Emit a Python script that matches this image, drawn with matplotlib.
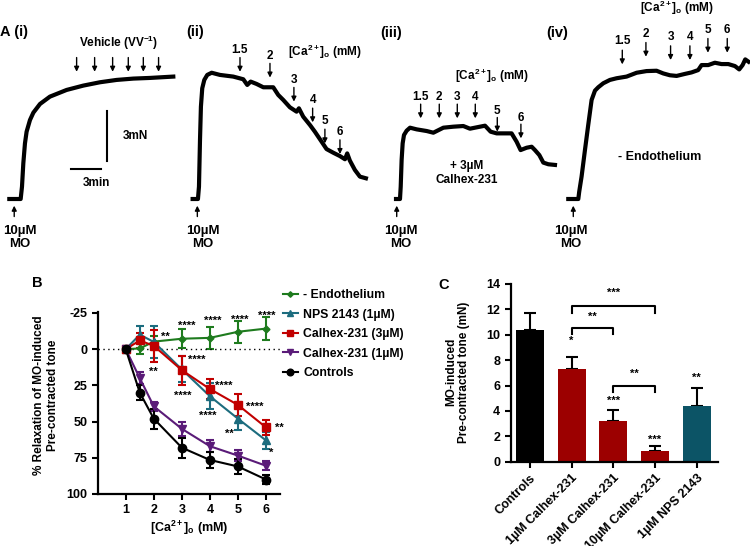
import matplotlib.pyplot as plt
from matplotlib.lines import Line2D
import numpy as np

plt.rcParams['font.family'] = ['Liberation Sans', 'DejaVu Sans']
plt.rcParams['font.weight'] = 'bold'
plt.rcParams['axes.labelweight'] = 'bold'
plt.rcParams['axes.unicode_minus'] = False
plt.rcParams['mathtext.fontset'] = 'custom'
plt.rcParams['mathtext.rm'] = 'Liberation Sans:bold'
plt.rcParams['mathtext.it'] = 'Liberation Sans:bold'
plt.rcParams['mathtext.bf'] = 'Liberation Sans:bold'
plt.rcParams['mathtext.default'] = 'regular'

# ---- Panel A: myograph traces (time in min after MO, tension in mN above baseline)
tr1_t = [0, 1.11, 1.24, 1.37, 1.53, 1.69, 2.02, 2.35, 3.0, 3.97, 5.6, 7.23, 8.86,
         10.49, 12.12, 13.75, 16.03]
tr1_f = [0, 0, 0.74, 2.14, 3.33, 4.03, 4.73, 5.17, 5.69, 6.13, 6.53, 6.79, 6.99,
         7.13, 7.21, 7.25, 7.33]
tr2_t = [0, 0.52, 0.62, 0.72, 0.81, 0.94, 1.14, 1.43, 1.86, 2.67, 3.97, 4.95, 5.34,
         5.67, 6.25, 6.91, 7.88, 8.37, 8.86, 9.51, 10.16, 10.39, 10.81, 11.47, 11.95,
         12.28, 12.61, 13.09, 13.75, 14.4, 14.89, 15.11, 15.37, 15.86, 16.35, 16.94]
tr2_f = [0, 0, 0.74, 3.53, 5.53, 6.63, 7.13, 7.43, 7.56, 7.43, 7.33, 7.17, 6.83,
         7.03, 6.89, 6.69, 6.69, 6.23, 5.93, 5.49, 5.23, 5.43, 4.93, 4.43, 4.03,
         3.73, 3.43, 2.99, 2.77, 2.57, 2.38, 2.73, 2.3, 1.74, 1.34, 1.24]
tr3_t = [0, 0.39, 0.46, 0.55, 0.65, 0.78, 1.04, 1.37, 2.02, 3.0, 3.65, 4.63, 5.6,
         6.58, 7.23, 7.88, 8.7, 9.25, 9.84, 10.65, 11.3, 11.79, 12.18, 12.77, 13.26,
         13.58, 14.01, 14.4, 14.89, 15.54]
tr3_f = [0, 0, 0.74, 2.34, 3.33, 3.83, 4.09, 4.27, 4.17, 4.07, 3.97, 4.27, 4.33,
         4.37, 4.21, 4.29, 4.39, 4.03, 3.93, 3.93, 3.93, 3.43, 2.93, 3.07, 3.13,
         2.93, 2.63, 2.18, 2.08, 2.04]
tr4_t = [0, 0.98, 1.07, 1.3, 1.63, 1.95, 2.28, 2.61, 2.93, 3.42, 4.07, 4.72, 5.7,
         6.68, 7.65, 8.63, 9.28, 9.93, 10.59, 11.4, 12.05, 12.7, 13.03, 13.68, 14.33,
         14.98, 15.64, 16.29, 16.71, 17.04, 17.3, 17.62]
tr4_f = [0, 0, 0.44, 1.34, 2.93, 4.43, 5.93, 6.49, 6.69, 6.93, 7.13, 7.23, 7.33,
         7.56, 7.66, 7.68, 7.52, 7.41, 7.37, 7.49, 7.58, 7.72, 8.02, 8.02, 8.16,
         8.08, 8.08, 7.96, 7.76, 8.02, 8.36, 8.22]
trace_start = [0.91, 18.83, 38.71, 55.55]   # where each trace sits along the row (min)
mo_time = [0.48, 0.46, 0.07, 0.49]
mo_text = [1.04, 0.96, 0.47, 0.24]

veh_t = [6.58, 8.34, 10.1, 11.63, 13.1, 14.59]
veh_tip = [7.62] * 6
ca_doses = ['1.5', '2', '3', '4', '5', '6']
ii_t = [4.63, 7.56, 9.9, 11.73, 12.93, 14.4]
ii_tip = [7.62, 7.27, 5.83, 4.59, 3.33, 2.69]
iii_t = [2.41, 4.23, 5.99, 7.75, 9.9, 12.21]
iii_tip = [4.83, 4.83, 4.83, 4.83, 4.03, 3.63]
iv_t = [5.28, 7.59, 10.0, 11.89, 13.65, 15.54]
iv_tip = [8.06, 8.52, 8.32, 8.32, 8.76, 8.76]

# ---- Panel B
conc = [1, 1.5, 2, 3, 4, 5, 6]
endo = [0, -0.5, -5.2, -7.2, -7.8, -12, -14.2]
endo_err = [0, 3.5, 4, 6.5, 7.5, 7.5, 8]
nps = [0, -10, -5, 14, 32.5, 48, 63]
nps_err = [0, 6, 11, 9, 9, 8, 6]
cal3 = [0, -6, -2.3, 14.5, 27.5, 38.5, 54]
cal3_err = [0, 5.5, 11, 10, 7, 7.5, 5]
cal1 = [0, 20, 39.5, 55, 67, 73.5, 80.5]
cal1_err = [0, 4, 3, 5, 4, 4, 3]
ctrl = [0, 30, 48, 68, 76.5, 81, 90]
ctrl_err = [0, 5, 7, 7, 5.5, 5, 3]

# ---- Panel C
groups = ['Controls', '1µM Calhex-231', '3µM Calhex-231', '10µM Calhex-231', '1µM NPS 2143']
tone = [10.4, 7.3, 3.2, 0.84, 4.4]
tone_err = [1.34, 0.97, 0.87, 0.4, 1.4]
bar_colors = ['#000000', '#9C0000', '#9C0000', '#9C0000', '#0C5466']

W, H = 750, 546
fig = plt.figure(figsize=(7.5, 5.46), dpi=100)


def fx(p):
    return p / W


def fy(p):
    return 1 - p / H


# ================= Panel A =================
axA = fig.add_axes([0, fy(290), 1, 290 / H])
axA.set_xlim(0, W / 10.23)
axA.set_ylim((199 - 290) / 16.7, 199 / 16.7)
axA.axis('off')

traces = [(tr1_t, tr1_f), (tr2_t, tr2_f), (tr3_t, tr3_f), (tr4_t, tr4_f)]
for (t, f), t0, tm, tt in zip(traces, trace_start, mo_time, mo_text):
    axA.plot(np.array(t) + t0, f, color='black', lw=3, solid_joinstyle='round')
    axA.annotate('', xy=(t0 + tm, -0.4), xytext=(t0 + tm, -1.05),
                 arrowprops=dict(arrowstyle='-|>', color='black', lw=1, mutation_scale=7,
                                 shrinkA=0, shrinkB=0))
    axA.text(t0 + tt, -2.3, '10µM\nMO', ha='center', va='center', fontsize=9.5,
             linespacing=1.1)


def dose_arrows(t0, times, tips, labels, lab_off=1.32):
    for i, (t, tip) in enumerate(zip(times, tips)):
        axA.annotate('', xy=(t0 + t, tip), xytext=(t0 + t, tip + 0.85),
                     arrowprops=dict(arrowstyle='-|>', color='black', lw=1, mutation_scale=7,
                                     shrinkA=0, shrinkB=0))
        if labels is not None:
            axA.text(t0 + t, tip + lab_off, labels[i], ha='center', va='center', fontsize=8.5)


ca_label = '[Ca$^{2+}$]$_{o}$ (mM)'
dose_arrows(trace_start[0], veh_t, veh_tip, None)
axA.text(trace_start[0] + 10.65, 9.32, 'Vehicle (VV$^{-1}$)', ha='center', va='center', fontsize=8.5)
# scale bars
axA.plot([trace_start[0] + 9.58] * 2, [2.25, 5.25], color='black', lw=1.5)
axA.plot([trace_start[0] + 6.0, trace_start[0] + 9.0], [1.78, 1.78], color='black', lw=1.5)
axA.text(trace_start[0] + 11.1, 3.77, '3mN', ha='left', va='center', fontsize=8.5)
axA.text(trace_start[0] + 8.5, 0.98, '3min', ha='center', va='center', fontsize=8.5)

dose_arrows(trace_start[1], ii_t, ii_tip, ca_doses)
axA.text(trace_start[1] + 12.9, 8.82, ca_label, ha='center', va='center', fontsize=8.5)

dose_arrows(trace_start[2], iii_t, iii_tip, ca_doses, 1.25)
axA.text(trace_start[2] + 9.35, 7.37, ca_label, ha='center', va='center', fontsize=8.5)
axA.text(trace_start[2] + 6.9, 1.54, '+ 3µM\nCalhex-231', ha='center', va='center',
         fontsize=8.5, linespacing=1.2)

dose_arrows(trace_start[3], iv_t, iv_tip, ca_doses, 1.38)
axA.text(trace_start[3] + 10.6, 11.42, ca_label, ha='center', va='center', fontsize=8.5)
axA.text(trace_start[3] + 8.96, 2.53, '- Endothelium', ha='center', va='center', fontsize=9)

for lab, px, py in [('A (i)', 0, 31.7), ('(ii)', 186, 31.7), ('(iii)', 380, 33.3), ('(iv)', 546, 33.3),
                    ('B', 32, 283), ('C', 438, 285)]:
    fig.text(fx(px), fy(py), lab, ha='left', va='center', fontsize=10.5, fontweight='bold')

# ================= Panel B =================
axB = fig.add_axes([fx(97.7), fy(494), fx(280) - fx(97.7), (494 - 311.5) / H])
series = [
    ('- Endothelium', endo, endo_err, '#1E7B1E', 'D', 3.5),
    ('NPS 2143 (1µM)', nps, nps_err, '#1C6C7E', '^', 6),
    ('Calhex-231 (3µM)', cal3, cal3_err, '#C10000', 's', 5.5),
    ('Calhex-231 (1µM)', cal1, cal1_err, '#5A1B78', 'v', 6),
    ('Controls', ctrl, ctrl_err, '#000000', 'o', 6),
]
handles = []
for name, vals, err, col, mk, ms in series:
    axB.errorbar(conc, vals, yerr=err, color=col, marker=mk, ms=ms, lw=1.5,
                 capsize=3, capthick=1.5, elinewidth=1.5)
    handles.append(Line2D([], [], color=col, marker=mk, ms=ms * 0.8, lw=1.5, label=name))
axB.axhline(0, color='black', lw=1, ls=(0, (1, 2.5)))
axB.set_xlim(0, 6.5)
axB.set_ylim(100, -26)
axB.set_xticks([1, 2, 3, 4, 5, 6])
axB.set_yticks([-25, 0, 25, 50, 75, 100])
for s in ['top', 'right']:
    axB.spines[s].set_visible(False)
for s in ['left', 'bottom']:
    axB.spines[s].set_linewidth(1.6)
axB.tick_params(width=1.5, length=4, labelsize=9)
for lab in axB.get_xticklabels() + axB.get_yticklabels():
    lab.set_fontweight('bold')
axB.set_xlabel('[Ca$^{2+}$]$_{o}$ (mM)', fontsize=9, labelpad=2, fontweight='bold')
fig.text(fx(46), fy(395), '% Relaxation of MO-induced\nPre-contracted tone', rotation=90,
         ha='center', va='center', multialignment='center', fontsize=8.5, fontweight='bold',
         linespacing=1.15)

stars_B = [('**', 2.43, -10.8), ('**', 1.98, 13.1), ('****', 3.16, -18.4), ('****', 4.11, -21.9),
           ('****', 5.05, -23), ('****', 6.02, -25.3), ('****', 3.52, 5.2), ('****', 3.04, 29.4),
           ('****', 4.49, 22.5), ('****', 3.93, 43.2), ('****', 5.59, 37.3), ('**', 4.7, 55.9),
           ('*', 6.18, 69), ('**', 6.47, 51.8)]
for s, x, y in stars_B:
    axB.text(x, y + 2.5, s, ha='center', va='center', fontsize=8, clip_on=False)

fig.legend(handles=handles, loc='upper left', bbox_to_anchor=(fx(283), fy(289)),
           frameon=False, prop={'size': 8.8, 'weight': 'bold'}, handlelength=1.2,
           handletextpad=0.45, labelspacing=0.62, borderaxespad=0, borderpad=0)

# ================= Panel C =================
axC = fig.add_axes([fx(510.7), fy(461.7), fx(718) - fx(510.7), (461.7 - 284) / H])
xc = np.arange(len(groups))
axC.bar(xc, tone, width=0.67, color=bar_colors, zorder=2)
axC.errorbar(xc, tone, yerr=[[0] * len(tone), tone_err], fmt='none', ecolor='black',
             capsize=4, capthick=1.5, elinewidth=1.5, zorder=1)
axC.set_xlim(-0.46, 4.51)
axC.set_ylim(0, 14)
axC.set_yticks(range(0, 15, 2))
axC.set_xticks(xc)
axC.set_xticklabels(groups, rotation=45, ha='right', va='top', rotation_mode='anchor',
                    fontsize=9, fontweight='bold')
for s in ['top', 'right']:
    axC.spines[s].set_visible(False)
for s in ['left', 'bottom']:
    axC.spines[s].set_linewidth(1.6)
axC.tick_params(width=1.5, length=4, labelsize=9)
for lab in axC.get_yticklabels():
    lab.set_fontweight('bold')
fig.text(fx(457.5), fy(372), 'MO-induced\nPre-contracted tone (mN)', rotation=90,
         ha='center', va='center', multialignment='center', fontsize=8.5, fontweight='bold',
         linespacing=1.15)


def bracket(x1, x2, y, leg, label, ty):
    axC.plot([x1, x1, x2, x2], [y - leg, y, y, y - leg], color='black', lw=1.5, clip_on=False)
    axC.text((x1 + x2) / 2, ty, label, ha='center', va='center', fontsize=8, clip_on=False)


bracket(1, 3, 12.25, 0.5, '***', 13.3)
bracket(1, 2, 10.52, 0.45, '**', 11.4)
bracket(2, 3, 5.95, 0.47, '**', 6.95)
for s, x, y in [('*', 1, 9.31), ('***', 2, 4.57), ('***', 3, 1.44), ('**', 4, 6.39)]:
    axC.text(x, y + 0.25, s, ha='center', va='center', fontsize=8)

fig.savefig('out.png', dpi=100)
